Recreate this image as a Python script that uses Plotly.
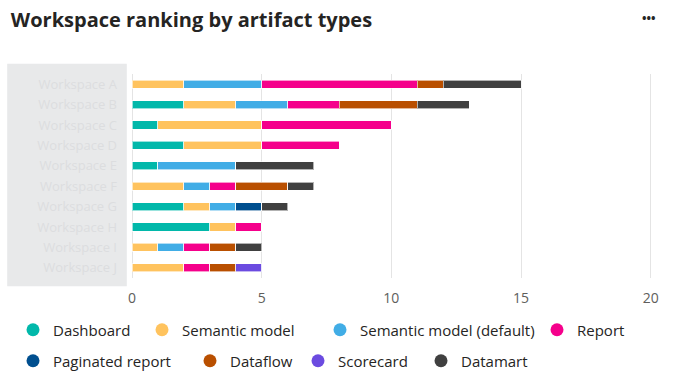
import plotly.graph_objects as go

workspaces = ["Workspace A", "Workspace B", "Workspace C", "Workspace D", "Workspace E",
              "Workspace F", "Workspace G", "Workspace H", "Workspace I", "Workspace J"]
series_names = ["Dashboard", "Semantic model", "Semantic model (default)", "Report",
                "Paginated report", "Dataflow", "Scorecard", "Datamart"]
dashboard        = [0, 2, 1, 2, 1, 0, 2, 3, 0, 0]
semantic_model   = [2, 2, 4, 3, 0, 2, 1, 1, 1, 2]
semantic_default = [3, 2, 0, 0, 3, 1, 1, 0, 1, 0]
report           = [6, 2, 5, 3, 0, 1, 0, 1, 1, 1]
paginated        = [0, 0, 0, 0, 0, 0, 1, 0, 0, 0]
dataflow         = [1, 3, 0, 0, 0, 2, 0, 0, 1, 1]
scorecard        = [0, 0, 0, 0, 0, 0, 0, 0, 0, 1]
datamart         = [3, 2, 0, 0, 3, 1, 1, 0, 1, 0]
x_ticks = [0, 5, 10, 15, 20]

colors = ["#01B8AA", "#FFC35E", "#41ADE6", "#F5008B", "#004F8F", "#B94F00", "#6B4BE0", "#404040"]
values = [dashboard, semantic_model, semantic_default, report, paginated, dataflow, scorecard, datamart]

# legend item placement (pixels): left edge of each legend box, and row centre
legend_left = [13, 142, 320, 537, 13, 190, 298, 421]
legend_row_y = [330, 330, 330, 330, 361, 361, 361, 361]

W, H = 678, 384
font = "Open Sans, Noto Sans, sans-serif"
fig = go.Figure()
for name, vals, col in zip(series_names, values, colors):
    fig.add_trace(go.Bar(
        y=workspaces, x=vals, name=name, orientation="h",
        marker=dict(color=col, line=dict(color="rgba(255,255,255,0.6)", width=1)),
        showlegend=False,
    ))

legend_layouts = {}
for i, (name, col) in enumerate(zip(series_names, colors)):
    key = "legend" if i == 0 else f"legend{i + 1}"
    fig.add_trace(go.Scatter(
        x=[None], y=[None], mode="markers", name=name,
        marker=dict(color=col, size=13, symbol="circle"),
        showlegend=True, legend=key,
    ))
    legend_layouts[key] = dict(
        orientation="h", xref="container", yref="container",
        x=legend_left[i] / W, xanchor="left",
        y=(H - legend_row_y[i]) / H, yanchor="middle",
        font=dict(size=15, color="#252423"), itemwidth=30,
        bgcolor="rgba(0,0,0,0)",
    )

fig.add_shape(type="rect", xref="paper", yref="paper", x0=-0.24, x1=-0.01, y0=-0.04, y1=1.05,
              fillcolor="#e6e7e8", line=dict(width=0), layer="below", opacity=0.9)

fig.update_layout(
    width=W, height=H,
    barmode="stack", bargap=0.6,
    plot_bgcolor="white", paper_bgcolor="white",
    margin=dict(l=132, r=26, t=74, b=106, autoexpand=False),
    font=dict(family=font, color="#252423"),
    title=dict(text="<b>Workspace ranking by artifact types</b>", x=0.016, xanchor="left",
               y=0.948, yanchor="middle", font=dict(size=20, color="#252423", family=font)),
    xaxis=dict(range=[0, 20.05], tickvals=x_ticks, showgrid=True, gridcolor="#e4e4e4",
               gridwidth=1, zeroline=True, zerolinecolor="#e4e4e4", zerolinewidth=1,
               tickfont=dict(size=14, color="#605E5C"), ticks="", showline=False,
               ticklabelstandoff=10),
    yaxis=dict(autorange="reversed", tickfont=dict(size=13, color="#dcdddf"),
               showgrid=False, ticks="", ticklabelstandoff=14),
    **legend_layouts,
)
fig.add_annotation(text="<b>•••</b>", xref="paper", yref="paper", x=1.0115, y=1.27,
                   showarrow=False, font=dict(size=12, color="#252423"), xanchor="right", yanchor="middle")

fig.write_html("out.html", post_script="document.body.style.margin='0';",
               config={"displayModeBar": False})
